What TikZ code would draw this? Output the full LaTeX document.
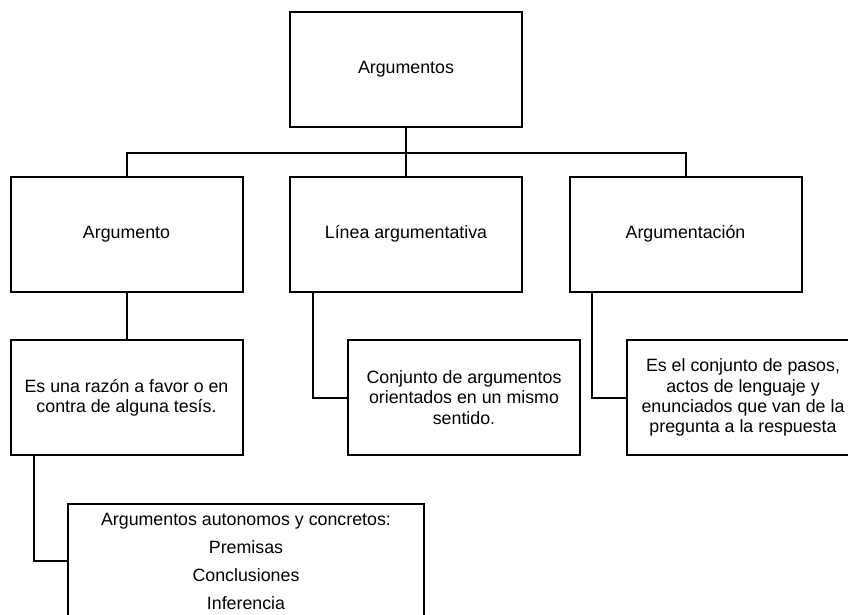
\documentclass[tikz,border=0pt]{standalone}
\usepackage{fontspec}
\setmainfont{Liberation Sans}
\begin{document}
\begin{tikzpicture}[x={(1pt,0)},y={(0,-1pt)},
  box/.style={draw=black,line width=2pt,fill=white,minimum width=232pt,minimum height=115pt,align=center,inner sep=0pt,font=\fontsize{17.8}{20.2}\selectfont},
  wire/.style={line width=2pt,line join=miter}]
\useasboundingbox (0,0) rectangle (848,615);
\clip (0,0) rectangle (848,615);
% nodes
\node[box] (top) at (406,69.5) {Argumentos};
\node[box] (a1) at (126.5,234) {Argumento};
\node[box] (a2) at (406,234) {Línea argumentativa};
\node[box] (a3) at (685.5,234) {Argumentación};
\node[box] (c1) at (126.5,397.5) {Es una razón a favor o en\\contra de alguna tesís.};
\node[box] (c2) at (464,397.5) {Conjunto de argumentos\\orientados en un mismo\\sentido.};
\node[box] (c3) at (743,397.5) {Es el conjunto de pasos,\\actos de lenguaje y\\enunciados que van de la\\pregunta a la respuesta};
\node[box,minimum width=356pt,minimum height=115pt,font=\fontsize{17.8}{28}\selectfont] (d) at (246,561) {Argumentos autonomos y concretos:\\Premisas\\Conclusiones\\Inferencia};
% connectors
\draw[wire] (top.south) -- ++(0,25) coordinate (j);
\draw[wire] (a1.north) -- (a1.north |- j) -- (a3.north |- j) -- (a3.north);
\draw[wire] (j) -- (a2.north);
\draw[wire] (a1.south) -- (c1.north);
\draw[wire] ([xshift=24pt]a2.south west) |- (c2.west);
\draw[wire] ([xshift=23pt]a3.south west) |- (c3.west);
\draw[wire] ([xshift=24pt]c1.south west) |- (d.west);
\end{tikzpicture}
\end{document}
